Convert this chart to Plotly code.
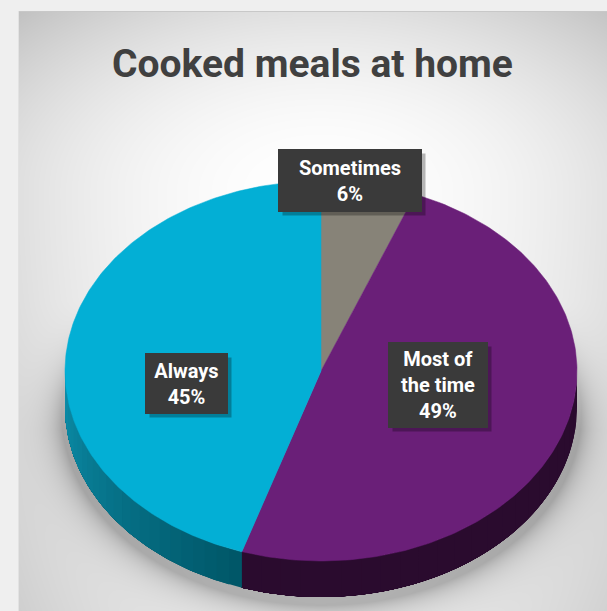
import base64
import struct
import zlib

import numpy as np
import plotly.graph_objects as go

# ---- data -------------------------------------------------------------
categories = ["Sometimes", "Most of the time", "Always"]
shares = [6, 49, 45]                      # percent, clockwise from 12 o'clock
label_lines = ["Sometimes", "Most of<br>the time", "Always"]

top_colors = ["#878378", "#6a1f78", "#03afd5"]
side_dark = ["#5f5c55", "#2a0b2e", "#005667"]
side_light = ["#6b6860", "#2a0b2e", "#0c8eaa"]

# ---- canvas / pie geometry (pixel space) -------------------------------
W, H = 607, 611
CX, CY = 321, 371          # centre of the top face
RX, RY = 256, 190          # ellipse radii of the top face
DEPTH = 36                 # thickness of the disc

label_pos = [(350, 180), (438, 385), (186, 383)]
label_box = [(134, 53), (90, 76), (73, 51)]


def png_uri(rgb):
    h, w, _ = rgb.shape
    raw = b"".join(b"\x00" + rgb[i].tobytes() for i in range(h))

    def chunk(tag, data):
        c = struct.pack(">I", len(data)) + tag + data
        return c + struct.pack(">I", zlib.crc32(tag + data) & 0xFFFFFFFF)

    png = (b"\x89PNG\r\n\x1a\n"
           + chunk(b"IHDR", struct.pack(">IIBBBBB", w, h, 8, 2, 0, 0, 0))
           + chunk(b"IDAT", zlib.compress(raw, 9))
           + chunk(b"IEND", b""))
    return "data:image/png;base64," + base64.b64encode(png).decode()


# ---- background: slide panel with radial gradient and pie shadow -------
yy, xx = np.mgrid[0:H, 0:W].astype(float)
sy = np.where(yy < 190, 250.0, 800.0)
r2 = ((xx - 320) / 420) ** 2 + ((yy - 190) / sy) ** 2
val = 255 - 60 * r2

# soft shadow cast below the disc
scx, scy, srx, sry = CX, CY + DEPTH + 5, RX + 4, RY + 3
f = ((xx - scx) / srx) ** 2 + ((yy - scy) / sry) ** 2 - 1
grad = 2 * np.sqrt(((xx - scx) / srx ** 2) ** 2 + ((yy - scy) / sry ** 2) ** 2) + 1e-9
dist = np.maximum(f / grad, 0)
weight = np.clip((yy - 300) / 130, 0, 1)
val -= 62 * np.exp(-dist / 15) * weight

val = np.clip(val, 0, 255)
panel = (xx >= 18) & (yy >= 11)
img = np.where(panel, val, 239.0)
img[11, 18:] = 200
img[11:, 18] = 226
rgb = np.repeat(img[:, :, None], 3, axis=2).astype(np.uint8)
bg_uri = png_uri(rgb)


# ---- pie geometry helpers ---------------------------------------------
def pt(t, dy=0.0):
    return CX + RX * np.sin(t), CY - RY * np.cos(t) + dy


def mix(c1, c2, a):
    a1 = [int(c1[i:i + 2], 16) for i in (1, 3, 5)]
    a2 = [int(c2[i:i + 2], 16) for i in (1, 3, 5)]
    return "rgb(%d,%d,%d)" % tuple(round(p + (q - p) * a) for p, q in zip(a1, a2))


fig = go.Figure()

bounds = np.concatenate([[0], np.cumsum(shares)]) / sum(shares) * 2 * np.pi

# side walls (front half of the disc only); each shading band runs to the
# end of the wall so the next band overlaps it and no seams show
for i in range(len(shares)):
    t1, t2 = max(bounds[i], np.pi / 2), min(bounds[i + 1], 3 * np.pi / 2)
    if t2 <= t1:
        continue
    nstrip = 24
    edges = np.linspace(t1, t2, nstrip + 1)
    for k in range(nstrip):
        ts = np.linspace(edges[k], t2, 80)
        xt, yt = pt(ts)
        xb, yb = pt(ts[::-1], DEPTH)
        a = (k + 0.5) / nstrip
        fig.add_trace(go.Scatter(
            x=np.concatenate([xt, xb]), y=np.concatenate([yt, yb]),
            fill="toself", mode="lines", line=dict(width=0),
            fillcolor=mix(side_dark[i], side_light[i], a),
            hoverinfo="skip", showlegend=False))

# top faces
for i, name in enumerate(categories):
    ts = np.linspace(bounds[i], bounds[i + 1], 200)
    xa, ya = pt(ts)
    fig.add_trace(go.Scatter(
        x=np.concatenate([[CX], xa, [CX]]), y=np.concatenate([[CY], ya, [CY]]),
        fill="toself", mode="lines", line=dict(width=0.5, color=top_colors[i]),
        fillcolor=top_colors[i], name=name,
        hovertemplate=f"{name}: {shares[i]}%<extra></extra>", showlegend=False))

# ---- labels -----------------------------------------------------------
annotations = []
for (lx, ly), (bw, bh) in zip(label_pos, label_box):
    annotations.append(dict(
        x=lx + 4, y=ly + 4, xref="x", yref="y", showarrow=False,
        text=" ", width=bw, height=bh, borderpad=4, borderwidth=1,
        bgcolor="rgba(0,0,0,0.28)", bordercolor="rgba(0,0,0,0)"))
for i, ((lx, ly), (bw, bh)) in enumerate(zip(label_pos, label_box)):
    annotations.append(dict(
        x=lx, y=ly, xref="x", yref="y", showarrow=False,
        text=f"{label_lines[i]}<br>{shares[i]}%", align="center",
        width=bw, height=bh, borderpad=4, borderwidth=1,
        bgcolor="#3a3a3a", bordercolor="#3a3a3a",
        font=dict(family="Roboto", size=20, color="#ffffff", weight="bold")))

annotations.append(dict(
    x=312, y=64, xref="x", yref="y", showarrow=False,
    text="Cooked meals at home",
    font=dict(family="Roboto", size=39, color="#404040", weight="bold")))

fig.update_layout(
    width=W, height=H, margin=dict(l=0, r=0, t=0, b=0),
    paper_bgcolor="#efefef", plot_bgcolor="rgba(0,0,0,0)",
    xaxis=dict(range=[0, W], visible=False, fixedrange=True),
    yaxis=dict(range=[H, 0], visible=False, fixedrange=True),
    images=[dict(source=bg_uri, xref="paper", yref="paper", x=0, y=1,
                 sizex=1, sizey=1, sizing="stretch", layer="below",
                 xanchor="left", yanchor="top")],
    annotations=annotations,
    showlegend=False,
)

fig.write_html("out.html", config={"displayModeBar": False})
